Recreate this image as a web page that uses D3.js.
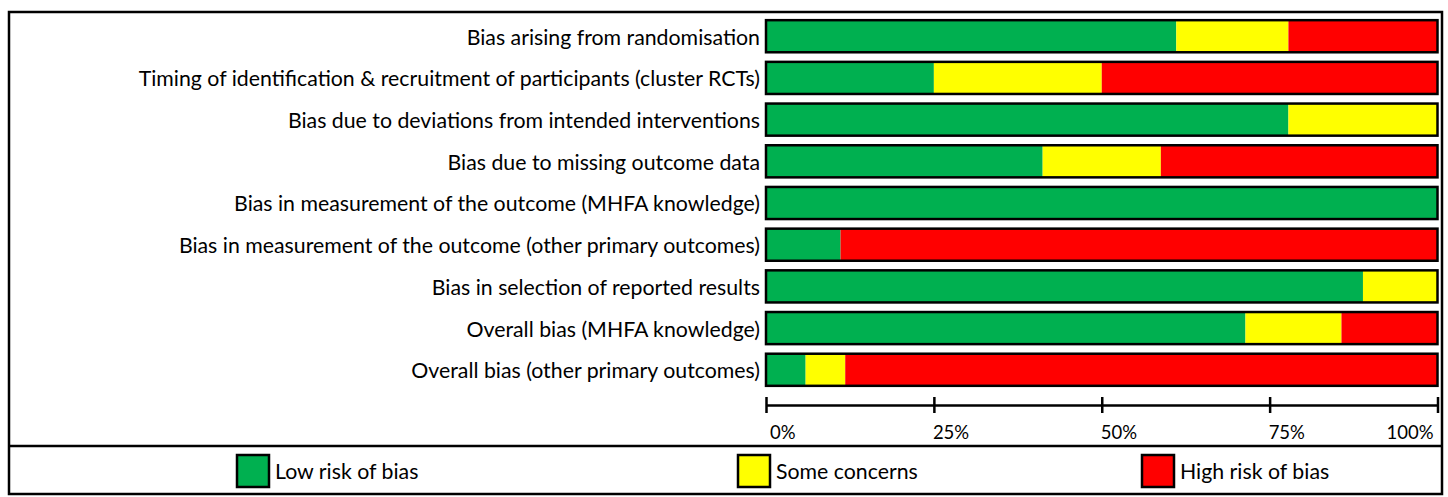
<!DOCTYPE html>
<html>
<head>
<meta charset="utf-8">
<script src="https://cdn.jsdelivr.net/npm/d3@7"></script>
<style>
  body { margin: 0; background: #fff; }
  text { font-family: Lato, "Open Sans", sans-serif; fill: #000; }
</style>
</head>
<body>
<div class="chart"></div>
<script>
// domains, top to bottom
let domains = [
  "Bias arising from randomisation",
  "Timing of identification & recruitment of participants (cluster RCTs)",
  "Bias due to deviations from intended interventions",
  "Bias due to missing outcome data",
  "Bias in measurement of the outcome (MHFA knowledge)",
  "Bias in measurement of the outcome (other primary outcomes)",
  "Bias in selection of reported results",
  "Overall bias (MHFA knowledge)",
  "Overall bias (other primary outcomes)"
];

// percent of studies per judgement
let lowRisk  = [61.1, 25, 77.8, 41.2, 100, 11.1, 88.9, 71.4, 5.9];
let someConc = [16.7, 25, 22.2, 17.6, 0, 0, 11.1, 14.3, 5.9];
let highRisk = [22.2, 50, 0, 41.2, 0, 88.9, 0, 14.3, 88.2];

let judgements = ["Low risk of bias", "Some concerns", "High risk of bias"];
let colours = ["#00b050", "#ffff00", "#ff0000"];
let tickValues = [0, 25, 50, 75, 100];

let width = 1448, height = 497;

let svg = d3.select(".chart")
  .append("svg")
  .attr("width", width)
  .attr("height", height);

// outer frame and legend divider
svg.append("rect")
  .attr("x", 9).attr("y", 12)
  .attr("width", 1433).attr("height", 482)
  .attr("fill", "none")
  .attr("stroke", "#000")
  .attr("stroke-width", 2.5);

svg.append("line")
  .attr("x1", 9).attr("x2", 1442)
  .attr("y1", 446).attr("y2", 446)
  .attr("stroke", "#000")
  .attr("stroke-width", 2.5);

let x = d3.scaleLinear().domain([0, 100]).range([766, 1437.5]);
let y = d3.scaleBand().domain(domains).range([16, 390]).paddingInner(0.23).paddingOuter(0.1);

let stacked = domains.map((d, i) => {
  let vals = [lowRisk[i], someConc[i], highRisk[i]];
  let start = 0;
  return vals.map((v, j) => {
    let seg = { domain: d, x0: start, x1: start + v, colour: colours[j] };
    start += v;
    return seg;
  });
});

let rows = svg.selectAll(".row")
  .data(stacked)
  .enter()
  .append("g")
  .attr("class", "row");

rows.selectAll(".seg")
  .data(d => d.filter(s => s.x1 > s.x0))
  .enter()
  .append("rect")
  .attr("class", "seg")
  .attr("x", d => x(d.x0))
  .attr("y", d => y(d.domain))
  .attr("width", d => x(d.x1) - x(d.x0))
  .attr("height", y.bandwidth())
  .attr("fill", d => d.colour);

// outline of each bar
svg.selectAll(".outline")
  .data(domains)
  .enter()
  .append("rect")
  .attr("x", x(0))
  .attr("y", d => y(d))
  .attr("width", x(100) - x(0))
  .attr("height", y.bandwidth())
  .attr("fill", "none")
  .attr("stroke", "#000")
  .attr("stroke-width", 2.5);

svg.selectAll(".label")
  .data(domains)
  .enter()
  .append("text")
  .attr("x", 760)
  .attr("y", d => y(d) + y.bandwidth() / 2 + 1)
  .attr("dy", "0.35em")
  .attr("text-anchor", "end")
  .style("font-size", "21.3px")
  .text(d => d);

// percentage axis
let axisY = 405;
let axis = svg.append("g")
  .attr("transform", "translate(0," + axisY + ")")
  .call(d3.axisBottom(x).tickValues(tickValues).tickSize(0).tickFormat(""));
axis.select(".domain").attr("stroke", "#000").attr("stroke-width", 2.5);
axis.selectAll(".tick line")
  .attr("y1", -8).attr("y2", 8)
  .attr("stroke", "#000").attr("stroke-width", 2.5);

svg.selectAll(".tickLabel")
  .data(tickValues)
  .enter()
  .append("text")
  .attr("x", d => d === 100 ? x(d) - 4 : (d === 0 ? x(d) + 4 : x(d) - 1))
  .attr("y", 439)
  .attr("text-anchor", d => d === 100 ? "end" : "start")
  .style("font-size", "18.5px")
  .text(d => d + "%");

// legend
let legendX = [237, 738, 1142];
let legend = svg.selectAll(".legend")
  .data(judgements)
  .enter()
  .append("g")
  .attr("transform", (d, i) => "translate(" + legendX[i] + ",455)");

legend.append("rect")
  .attr("width", 32).attr("height", 32)
  .attr("fill", (d, i) => colours[i])
  .attr("stroke", "#000")
  .attr("stroke-width", 2.5);

legend.append("text")
  .attr("x", 38)
  .attr("y", 17)
  .attr("dy", "0.35em")
  .style("font-size", "21.3px")
  .text(d => d);
</script>
</body>
</html>
